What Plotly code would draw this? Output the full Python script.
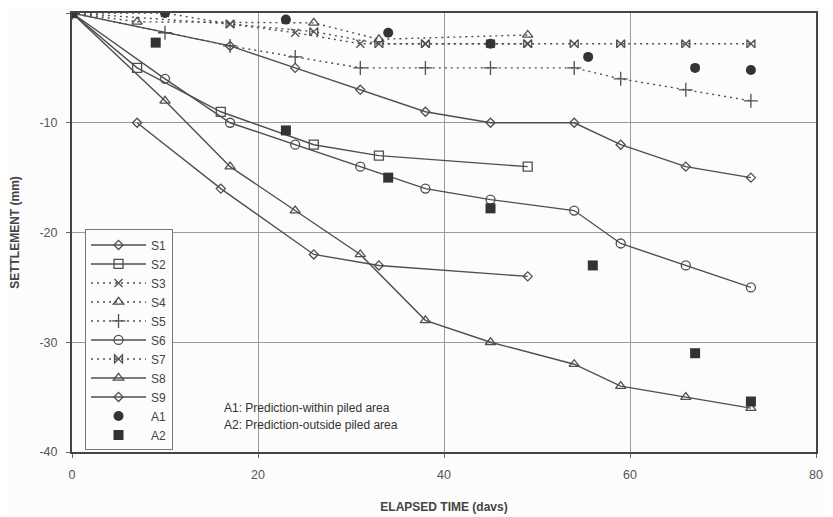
import plotly.graph_objects as go

# ---- data ----
s1_x = [7, 16, 26, 33, 49]
s1_y = [-10, -16, -22, -23, -24]
s2_x = [0, 7, 16, 26, 33, 49]
s2_y = [0, -5, -9, -12, -13, -14]
s3_x = [0, 10, 17, 24, 31, 38, 45, 49]
s3_y = [0, 0, -1, -1.8, -2.8, -2.8, -2.8, -2.8]
s4_x = [0, 7, 26, 33, 49]
s4_y = [0, -0.8, -0.9, -2.4, -2]
s5_x = [0, 10, 17, 24, 31, 38, 45, 54, 59, 66, 73]
s5_y = [0, -1.8, -3, -4, -5, -5, -5, -5, -6, -7, -8]
s6_x = [0, 10, 17, 24, 31, 38, 45, 54, 59, 66, 73]
s6_y = [0, -6, -10, -12, -14, -16, -17, -18, -21, -23, -25]
s7_x = [0, 17, 26, 33, 38, 45, 49, 54, 59, 66, 73]
s7_y = [0, -1, -1.7, -2.8, -2.8, -2.8, -2.8, -2.8, -2.8, -2.8, -2.8]
s8_x = [0, 10, 17, 24, 31, 38, 45, 54, 59, 66, 73]
s8_y = [0, -8, -14, -18, -22, -28, -30, -32, -34, -35, -36]
s9_x = [0, 17, 24, 31, 38, 45, 54, 59, 66, 73]
s9_y = [0, -3, -5, -7, -9, -10, -10, -12, -14, -15]
a1_x = [0, 10, 23, 34, 45, 55.5, 67, 73]
a1_y = [0, 0, -0.6, -1.8, -2.8, -4, -5, -5.2]
a2_x = [0, 9, 23, 34, 45, 56, 67, 73]
a2_y = [0, -2.7, -10.7, -15, -17.8, -23, -31, -35.4]

x_ticks = [0, 20, 40, 60, 80]
y_ticks = [0, -10, -20, -30, -40]
note_lines = ["A1: Prediction-within piled area", "A2: Prediction-outside piled area"]

LC = "#4f4f4f"
FONT = "Arial, Liberation Sans, sans-serif"
fig = go.Figure()

def add_line(name, x, y, symbol, dash, size=8):
    fig.add_trace(go.Scatter(
        x=x, y=y, name=name, mode="lines+markers",
        line=dict(color=LC, width=1.4, dash=dash),
        marker=dict(symbol=symbol, size=size, color=LC,
                    line=dict(color=LC, width=1.3))))

DOT = "2px,4px"
add_line("S1", s1_x, s1_y, "diamond-open", "solid", 7)
add_line("S2", s2_x, s2_y, "square-open", "solid", 9)
add_line("S3", s3_x, s3_y, "x-thin-open", DOT, 8)
add_line("S4", s4_x, s4_y, "triangle-up-open", DOT, 9)
add_line("S5", s5_x, s5_y, "cross-thin-open", DOT, 10)
add_line("S6", s6_x, s6_y, "circle-open", "solid", 9)
add_line("S7", s7_x, s7_y, "bowtie-open", DOT, 8)
add_line("S8", s8_x, s8_y, "triangle-up-open", "solid", 9)
add_line("S9", s9_x, s9_y, "diamond-open", "solid", 7)

fig.add_trace(go.Scatter(x=a1_x, y=a1_y, name="A1", mode="markers",
                         marker=dict(symbol="circle", size=10, color="#333333")))
fig.add_trace(go.Scatter(x=a2_x, y=a2_y, name="A2", mode="markers",
                         marker=dict(symbol="square", size=10, color="#333333")))

for i, t in enumerate(note_lines):
    fig.add_annotation(x=16.1, y=-36 - 1.55 * i, text=t, showarrow=False,
                       xanchor="left", yanchor="middle",
                       font=dict(family=FONT, size=12, color="#333333"))

axis_common = dict(showgrid=True, gridcolor="#9a9a9a", gridwidth=1,
                   showline=True, linecolor="#444444", linewidth=2, mirror=True,
                   zeroline=False, ticks="outside", tickcolor="#666666",
                   tickfont=dict(family=FONT, size=12.5, color="#555555"),
                   automargin=False)

fig.update_xaxes(range=[0, 80], tickvals=x_ticks, ticktext=[str(v) for v in x_ticks],
                 ticklen=4, ticklabelstandoff=6,
                 title=dict(text="<b>ELAPSED TIME (davs)</b>", standoff=22,
                            font=dict(family=FONT, size=12, color="#444444")),
                 **axis_common)
fig.update_yaxes(range=[-40, 0], tickvals=y_ticks, ticktext=[str(v) for v in y_ticks],
                 ticklen=4, ticklabelstandoff=6,
                 title=dict(text="<b>SETTLEMENT (mm)</b>", standoff=22,
                            font=dict(family=FONT, size=12, color="#444444")),
                 **axis_common)

fig.update_layout(
    width=833, height=517,
    margin=dict(l=64, r=25, t=5, b=73),
    paper_bgcolor="#fcfcfc", plot_bgcolor="#fcfcfc",
    showlegend=True,
    legend=dict(x=0.0175, y=0.507, xanchor="left", yanchor="top",
                bgcolor="#fcfcfc", bordercolor="#777777", borderwidth=1,
                font=dict(family=FONT, size=12, color="#444444"),
                itemwidth=55, tracegroupgap=0),
)

fig.write_html("out.html")
